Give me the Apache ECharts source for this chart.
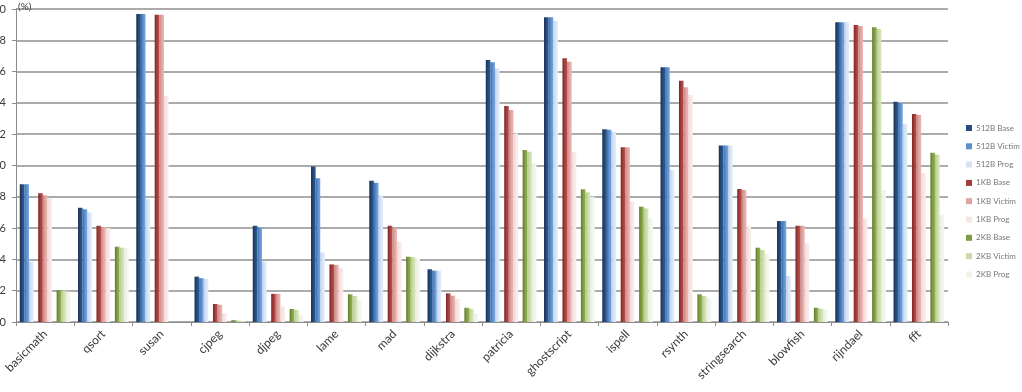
<!DOCTYPE html>
<html>
<head>
<meta charset="utf-8">
<script src="https://cdn.jsdelivr.net/npm/echarts@6/dist/echarts.min.js"></script>
<style>
html,body{margin:0;padding:0;background:#fff;}
#chart{width:1022px;height:392px;}
</style>
</head>
<body>
<div id="chart"></div>
<script>
var categories = ['basicmath','qsort','susan','cjpeg','djpeg','lame','mad','dijkstra','patricia','ghostscript','ispell','rsynth','stringsearch','blowfish','rijndael','fft'];
var yTicks = [0,2,4,6,8,10,12,14,16,18,20];
var seriesNames = ['512B Base','512B Victim','512B Prog','1KB Base','1KB Victim','1KB Prog','2KB Base','2KB Victim','2KB Prog'];

var b512Base   = [8.8,7.3,19.68,2.9,6.15,9.93,9.03,3.37,16.74,19.47,12.31,16.27,11.27,6.45,19.15,14.08];
var b512Victim = [8.8,7.2,19.68,2.8,6.05,9.18,8.9,3.28,16.6,19.47,12.28,16.27,11.27,6.45,19.15,14.0];
var b512Prog   = [3.85,7.0,7.85,2.75,3.85,4.45,8.1,3.28,16.2,19.25,12.16,9.71,11.27,2.94,19.15,12.65];
var k1Base     = [8.22,6.15,19.64,1.15,1.8,3.68,6.15,1.83,13.8,16.85,11.16,15.42,8.5,6.15,18.98,13.29];
var k1Victim   = [8.1,6.05,19.64,1.1,1.8,3.65,6.0,1.68,13.55,16.63,11.16,15.0,8.43,6.15,18.91,13.23];
var k1Prog     = [7.9,6.0,14.44,0.55,1.0,3.47,5.13,1.47,12.05,10.88,7.69,14.5,6.09,5.03,6.62,9.5];
var k2Base     = [2.04,4.81,0,0.12,0.83,1.77,4.17,0.91,10.99,8.48,7.37,1.77,4.75,0.91,18.83,10.82];
var k2Victim   = [2.0,4.75,0,0.1,0.77,1.66,4.15,0.85,10.88,8.29,7.26,1.66,4.6,0.85,18.72,10.71];
var k2Prog     = [1.94,4.7,0,0.05,0.45,1.4,4.05,0.55,10.14,8.0,6.62,1.51,4.35,0.8,8.43,6.84];

var seriesData = [b512Base,b512Victim,b512Prog,k1Base,k1Victim,k1Prog,k2Base,k2Victim,k2Prog];
var colors = [
  ['#132c4f','#24497a','#2f5a92'],
  ['#3b6aa6','#5b8fd0','#7aa7dc'],
  ['#bcd0ea','#d5e3f5','#e5eefa'],
  ['#7a2523','#a13c39','#b55450'],
  ['#c97d7b','#e0a3a1','#eab7b5'],
  ['#efd6d5','#f7e5e4','#faeeed'],
  ['#5d772a','#7f9c42','#93b055'],
  ['#b2c787','#cadca6','#d8e6bb'],
  ['#e6ecdd','#f0f4e9','#f6f8f1']
];

function grad(c){
  return new echarts.graphic.LinearGradient(0,0,1,0,[
    {offset:0,color:c[0]},{offset:0.45,color:c[1]},{offset:1,color:c[2]}
  ]);
}

var series = [];
for (var i = 0; i < seriesData.length; i++) {
  series.push({
    name: seriesNames[i],
    type: 'bar',
    data: seriesData[i],
    barGap: '0%',
    barCategoryGap: '13%',
    itemStyle: {color: grad(colors[i])},
    silent: true
  });
  if (i === 2 || i === 5) {
    series.push({
      name: 'spacer' + i,
      type: 'bar',
      data: [],
      barGap: '0%',
      barCategoryGap: '13%',
      silent: true
    });
  }
}

var chart = echarts.init(document.getElementById('chart'), null, {renderer:'canvas'});
chart.setOption({
  animation: false,
  backgroundColor: '#ffffff',
  grid: {left: 16, right: 74, top: 9, bottom: 70, containLabel: false, outerBoundsMode: 'none'},
  legend: {
    data: seriesNames.map(function(n, i){ return {name: n, itemStyle: {color: colors[i][1]}}; }),
    orient: 'vertical',
    left: 961,
    top: 119,
    itemWidth: 6,
    itemHeight: 6,
    itemGap: 10.3,
    icon: 'rect',
    selectedMode: false,
    textStyle: {fontFamily: 'Lato', fontSize: 8, color: '#777777', padding: [0,0,0,-1]}
  },
  xAxis: {
    type: 'category',
    data: categories,
    axisLine: {lineStyle: {color: '#8c8c8c', width: 1}},
    axisTick: {show: true, length: 4, lineStyle: {color: '#8c8c8c'}},
    axisLabel: {rotate: 45, interval: 0, fontFamily: 'Lato', fontSize: 12, color: '#3a3a3a', margin: 10}
  },
  yAxis: {
    type: 'value',
    min: 0,
    max: 20,
    interval: 2,
    name: '(%)',
    nameLocation: 'end',
    nameGap: -3,
    nameTextStyle: {align: 'left', fontFamily: 'Lato', fontSize: 10, color: '#3a3a3a', padding: [0,0,0,2]},
    axisLine: {show: true, lineStyle: {color: '#8c8c8c', width: 1}},
    axisTick: {show: true, length: 4, lineStyle: {color: '#8c8c8c'}},
    axisLabel: {fontFamily: 'Lato', fontSize: 11, color: '#3a3a3a', margin: 10,
      formatter: function(v){ return yTicks.indexOf(v) >= 0 ? String(v) : ''; }},
    splitLine: {show: true, lineStyle: {color: '#8f8f8f', width: 1.6}}
  },
  series: series
});
</script>
</body>
</html>
